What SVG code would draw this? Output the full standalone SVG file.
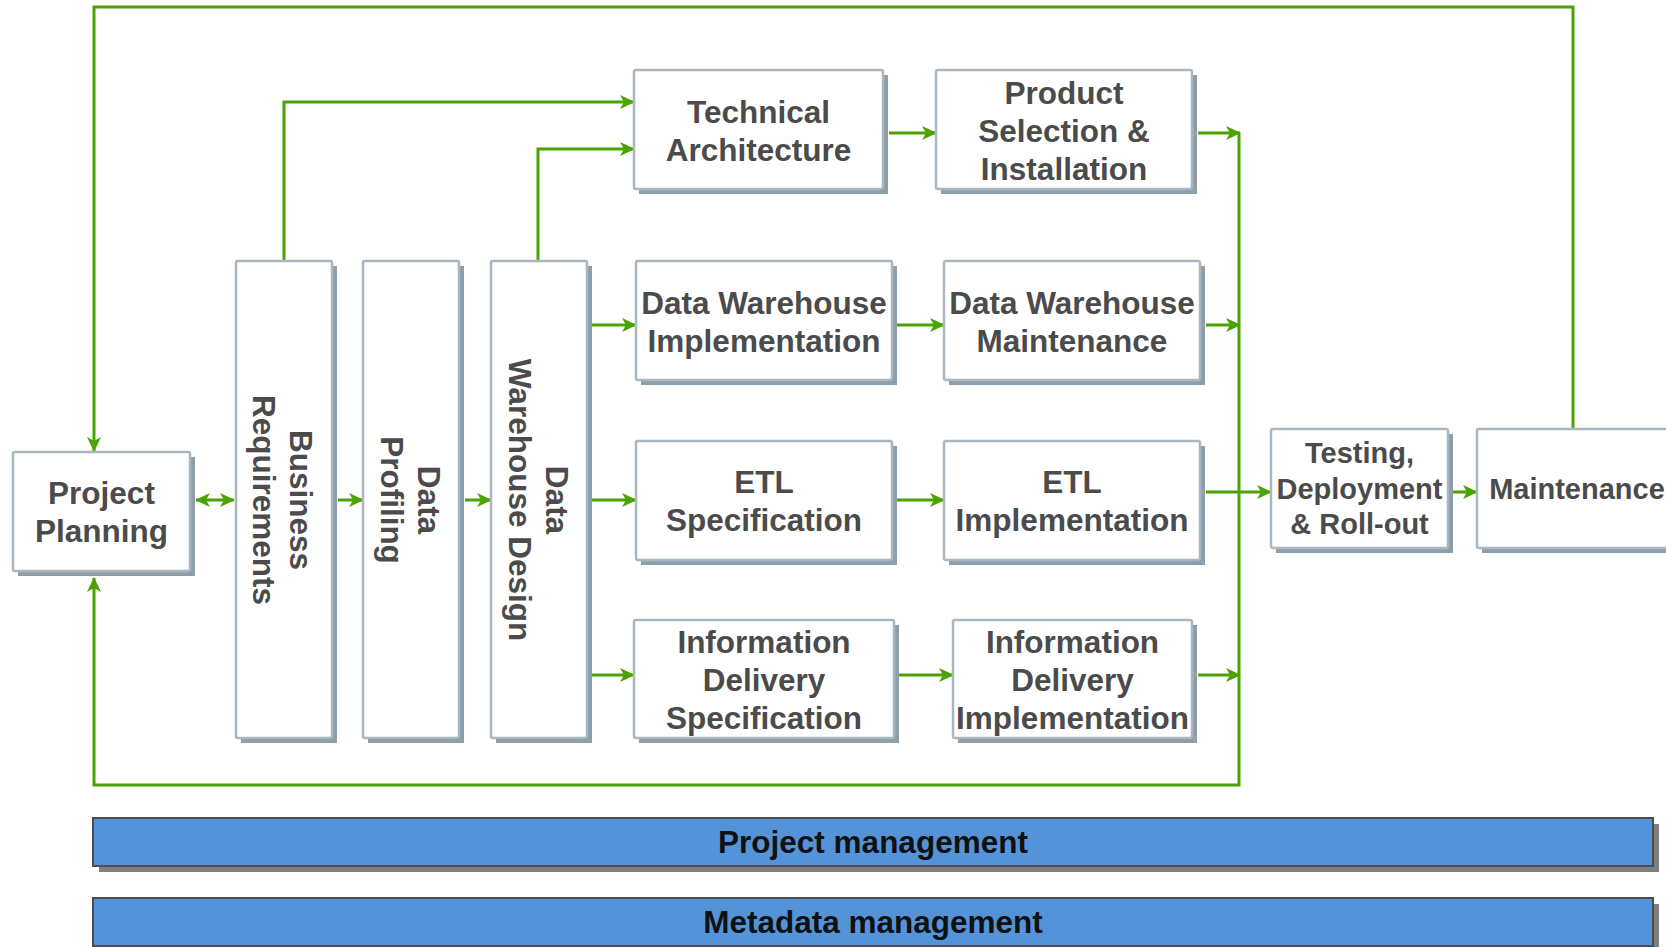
<svg xmlns="http://www.w3.org/2000/svg" width="1666" height="947" viewBox="0 0 1666 947">
  <defs>
    <style>
      .box { fill: #ffffff; stroke: #aab7c0; stroke-width: 2.5; }
      .shadow { fill: #8d9fab; }
      .label { font-family: "Liberation Sans", Arial, sans-serif; font-weight: bold; font-size: 31.5px; fill: #4b4b4b; text-anchor: middle; }
      .small { font-size: 29px; }
      .bar { fill: #5493d8; stroke: #4d4d4d; stroke-width: 2; }
      .barshadow { fill: #808080; }
      .bartext { font-family: "Liberation Sans", Arial, sans-serif; font-weight: bold; font-size: 31.5px; fill: #111111; text-anchor: middle; }
      .flow { fill: none; stroke: #4aa300; stroke-width: 3; }
      .arrow { marker-end: url(#head); }
      .both { marker-start: url(#head); marker-end: url(#head); }
    </style>
    <marker id="head" markerUnits="userSpaceOnUse" markerWidth="16" markerHeight="16" viewBox="0 0 16 16" refX="14" refY="8" orient="auto-start-reverse">
      <path d="M0,1 L15,8 L0,15 L4,8 z" fill="#4aa300"/>
    </marker>
  </defs>

  <!-- management bars -->
  <g id="project-management">
    <rect class="barshadow" x="99" y="824" width="1560" height="48"/>
    <rect class="bar" x="93" y="818" width="1560" height="48"/>
    <text class="bartext" x="873" y="853">Project management</text>
  </g>
  <g id="metadata-management">
    <rect class="barshadow" x="99" y="904" width="1560" height="48"/>
    <rect class="bar" x="93" y="898" width="1560" height="48"/>
    <text class="bartext" x="873" y="933">Metadata management</text>
  </g>

  <!-- connectors -->
  <g id="connectors">
    <path class="flow arrow" d="M1573,428 V7 H94 V451"/>
    <path class="flow arrow" d="M1239,133 V785 H94 V578"/>
    <path class="flow arrow" d="M1198,133 H1240"/>
    <path class="flow arrow" d="M1206,325 H1240"/>
    <path class="flow arrow" d="M1198,675 H1240"/>
    <path class="flow arrow" d="M1206,492 H1271"/>
    <path class="flow arrow" d="M1453,492 H1477"/>
    <path class="flow both" d="M196,500 H234"/>
    <path class="flow arrow" d="M338,500 H363"/>
    <path class="flow arrow" d="M465,500 H491"/>
    <path class="flow arrow" d="M284,261 V102 H634"/>
    <path class="flow arrow" d="M538,261 V149 H634"/>
    <path class="flow arrow" d="M592,325 H636"/>
    <path class="flow arrow" d="M592,500 H636"/>
    <path class="flow arrow" d="M592,675 H634"/>
    <path class="flow arrow" d="M889,133 H936"/>
    <path class="flow arrow" d="M897,325 H944"/>
    <path class="flow arrow" d="M897,500 H944"/>
    <path class="flow arrow" d="M899,675 H953"/>
  </g>

  <!-- process steps -->
  <g id="project-planning">
    <rect class="shadow" x="18" y="457" width="177" height="119"/>
    <rect class="box" x="13" y="452" width="177" height="119" rx="2"/>
    <text class="label"><tspan x="101.5" y="504">Project</tspan><tspan x="101.5" y="542">Planning</tspan></text>
  </g>

  <g id="business-requirements">
    <rect class="shadow" x="241" y="266" width="96" height="477"/>
    <rect class="box" x="236" y="261" width="96" height="477" rx="2"/>
    <text class="label" transform="translate(284,500) rotate(90)"><tspan x="0" y="-6">Business</tspan><tspan x="0" y="31">Requirements</tspan></text>
  </g>

  <g id="data-profiling">
    <rect class="shadow" x="368" y="266" width="96" height="477"/>
    <rect class="box" x="363" y="261" width="96" height="477" rx="2"/>
    <text class="label" transform="translate(411,500) rotate(90)"><tspan x="0" y="-7">Data</tspan><tspan x="0" y="30">Profiling</tspan></text>
  </g>

  <g id="data-warehouse-design">
    <rect class="shadow" x="496" y="266" width="96" height="477"/>
    <rect class="box" x="491" y="261" width="96" height="477" rx="2"/>
    <text class="label" transform="translate(539,500) rotate(90)"><tspan x="0" y="-7">Data</tspan><tspan x="0" y="30">Warehouse Design</tspan></text>
  </g>

  <g id="technical-architecture">
    <rect class="shadow" x="639" y="75" width="249" height="119"/>
    <rect class="box" x="634" y="70" width="249" height="119" rx="2"/>
    <text class="label"><tspan x="758.5" y="123">Technical</tspan><tspan x="758.5" y="161">Architecture</tspan></text>
  </g>

  <g id="product-selection">
    <rect class="shadow" x="941" y="75" width="256" height="119"/>
    <rect class="box" x="936" y="70" width="256" height="119" rx="2"/>
    <text class="label"><tspan x="1064" y="103.5">Product</tspan><tspan x="1064" y="141.5">Selection &amp;</tspan><tspan x="1064" y="179.5">Installation</tspan></text>
  </g>

  <g id="dw-implementation">
    <rect class="shadow" x="641" y="266" width="256" height="119"/>
    <rect class="box" x="636" y="261" width="256" height="119" rx="2"/>
    <text class="label"><tspan x="764" y="314">Data Warehouse</tspan><tspan x="764" y="352">Implementation</tspan></text>
  </g>

  <g id="dw-maintenance">
    <rect class="shadow" x="949" y="266" width="256" height="119"/>
    <rect class="box" x="944" y="261" width="256" height="119" rx="2"/>
    <text class="label"><tspan x="1072" y="314">Data Warehouse</tspan><tspan x="1072" y="352">Maintenance</tspan></text>
  </g>

  <g id="etl-specification">
    <rect class="shadow" x="641" y="446" width="256" height="119"/>
    <rect class="box" x="636" y="441" width="256" height="119" rx="2"/>
    <text class="label"><tspan x="764" y="493">ETL</tspan><tspan x="764" y="531">Specification</tspan></text>
  </g>

  <g id="etl-implementation">
    <rect class="shadow" x="949" y="446" width="256" height="119"/>
    <rect class="box" x="944" y="441" width="256" height="119" rx="2"/>
    <text class="label"><tspan x="1072" y="493">ETL</tspan><tspan x="1072" y="531">Implementation</tspan></text>
  </g>

  <g id="info-delivery-specification">
    <rect class="shadow" x="639" y="625" width="260" height="118"/>
    <rect class="box" x="634" y="620" width="260" height="118" rx="2"/>
    <text class="label"><tspan x="764" y="653">Information</tspan><tspan x="764" y="691">Delivery</tspan><tspan x="764" y="729">Specification</tspan></text>
  </g>

  <g id="info-delivery-implementation">
    <rect class="shadow" x="958" y="625" width="239" height="118"/>
    <rect class="box" x="953" y="620" width="239" height="118" rx="2"/>
    <text class="label"><tspan x="1072.5" y="653">Information</tspan><tspan x="1072.5" y="691">Delivery</tspan><tspan x="1072.5" y="729">Implementation</tspan></text>
  </g>

  <g id="testing-deployment">
    <rect class="shadow" x="1276" y="434" width="177" height="119"/>
    <rect class="box" x="1271" y="429" width="177" height="119" rx="2"/>
    <text class="label small"><tspan x="1359.5" y="463">Testing,</tspan><tspan x="1359.5" y="499">Deployment</tspan><tspan x="1359.5" y="534">&amp; Roll-out</tspan></text>
  </g>

  <g id="maintenance">
    <rect class="shadow" x="1482" y="434" width="240" height="119"/>
    <rect class="box" x="1477" y="429" width="240" height="119" rx="2"/>
    <text class="label small" x="1577" y="499">Maintenance</text>
  </g>
</svg>
